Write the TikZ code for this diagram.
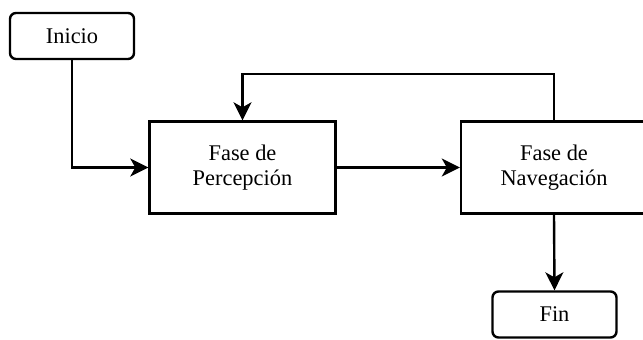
\documentclass[tikz,border=0pt]{standalone}
\usepackage{fontspec}
\setmainfont{Liberation Serif}
\usepackage{tikz}
\usetikzlibrary{arrows.meta, positioning, calc}
\tikzset{
  terminal/.style={draw, rounded corners=3pt, line width=1.2pt,
                   minimum width=62pt, minimum height=23pt, align=center},
  fase/.style={draw, line width=1.2pt, minimum width=93pt,
               minimum height=46pt, align=center},
  flecha/.style={-{Stealth[length=9pt, width=9pt, inset=2.5pt]}, line width=1.2pt},
}

\begin{document}
\begin{tikzpicture}[x=0.5pt, y=-0.5pt, font=\fontsize{11.2}{12.4}\selectfont]
  \useasboundingbox (0,0) rectangle (643,339);
  \clip (0,0) rectangle (643,339);

  % Bloques
  \node[terminal] (inicio) at (72,36) {Inicio};
  \node[fase] (percepcion) at (242.5,167.5) {Fase de\\Percepción};
  \node[fase] (navegacion) at (554,167.5) {Fase de\\Navegación};
  \node[terminal] (fin) at (554.5,314.5) {Fin};

  % Flujo
  \draw[flecha] (inicio.south) |- (percepcion.west);
  \draw[flecha] (percepcion.east) -- (navegacion.west);
  \draw[flecha] (navegacion.south) -- (fin.north);

  % Retorno
  \coordinate (retorno) at (242.5,74);
  \draw[flecha] (navegacion.north) |- (retorno) -- (percepcion.north);

\end{tikzpicture}
\end{document}
